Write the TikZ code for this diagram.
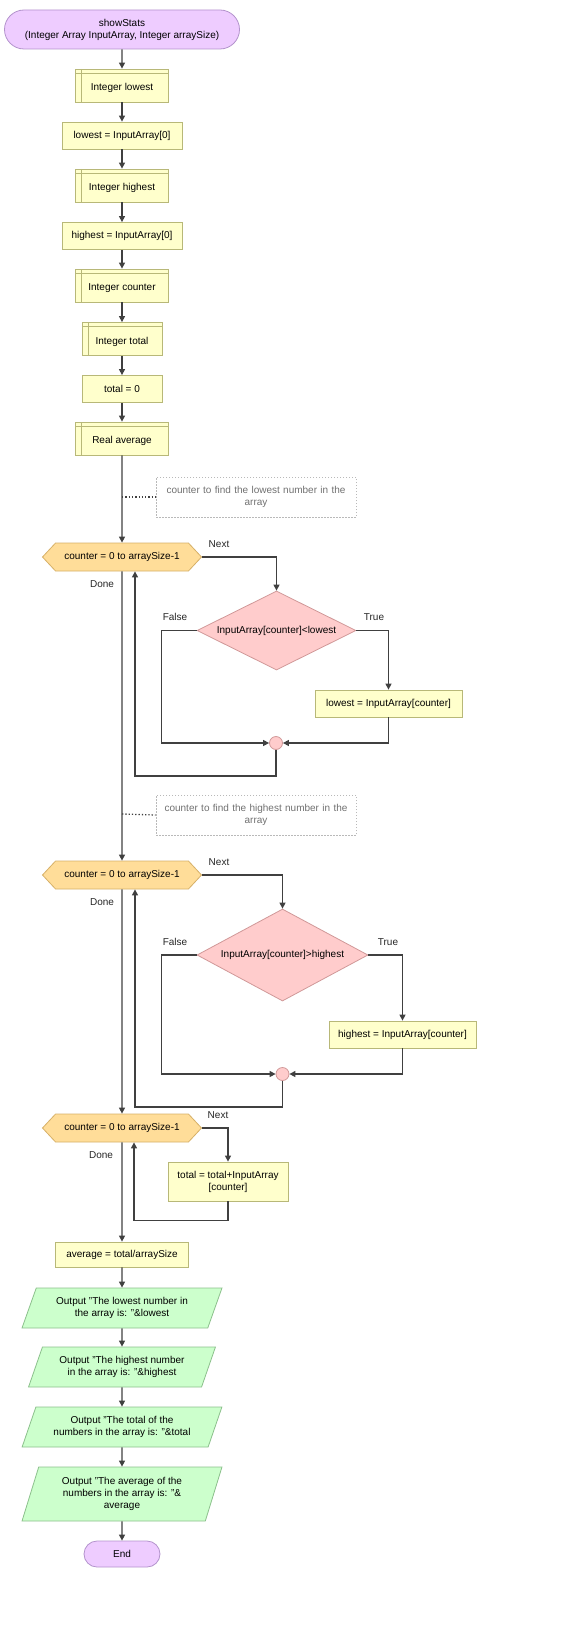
\documentclass[tikz,border=0pt]{standalone}
\usepackage{fontspec}
\setmainfont{Liberation Sans}
\usetikzlibrary{shapes.geometric,shapes.symbols,shapes.misc,arrows.meta}

\definecolor{termfill}{HTML}{EECCFF}
\definecolor{termline}{HTML}{B393CC}
\definecolor{procfill}{HTML}{FFFFCC}
\definecolor{procline}{HTML}{B8B878}
\definecolor{loopfill}{HTML}{FFDD99}
\definecolor{loopline}{HTML}{D6B068}
\definecolor{iffill}{HTML}{FFCCCC}
\definecolor{ifline}{HTML}{D09898}
\definecolor{outfill}{HTML}{CCFFCC}
\definecolor{outborder}{HTML}{8CC08C}
\definecolor{wire}{HTML}{404040}
\definecolor{notegray}{HTML}{707070}

\tikzset{
  base/.style={font=\fontsize{10}{12}\selectfont, inner sep=2pt, align=center, line width=0.8pt},
  term/.style={base, rounded rectangle, draw=termline, fill=termfill},
  proc/.style={base, rectangle, draw=procline, fill=procfill, minimum height=27pt},
  decl/.style={proc, minimum height=33pt, text height=12pt, text depth=2pt,
    path picture={\draw[procline, line width=0.8pt]
      ([yshift=-4pt]path picture bounding box.north west) -- ([yshift=-4pt]path picture bounding box.north east)
      ([xshift=6pt]path picture bounding box.north west) -- ([xshift=6pt]path picture bounding box.south west);}},
  loophex/.style={base, signal, signal to=west and east, signal pointer angle=94,
    draw=loopline, fill=loopfill, minimum width=159pt, minimum height=28pt},
  cond/.style={base, diamond, aspect=2, draw=ifline, fill=iffill, inner sep=0pt},
  outp/.style={base, trapezium, trapezium stretches=true, trapezium left angle=66, trapezium right angle=114,
    draw=outborder, fill=outfill, minimum width=200pt, minimum height=40pt},
  joint/.style={circle, draw=ifline, fill=iffill, line width=0.8pt, minimum size=13pt, inner sep=0pt},
  note/.style={base, draw=gray!55, dash pattern=on 1.5pt off 1.5pt, text=notegray,
    minimum width=200pt, minimum height=40pt, text width=192pt},
  lbl/.style={font=\fontsize{10}{12}\selectfont, text=black!85, inner sep=0pt},
  flow/.style={draw=wire, line width=1.3pt, -{Triangle[length=6pt,width=6pt]}},
  line/.style={draw=wire, line width=1.3pt}
}

\begin{document}
\begin{tikzpicture}[x=1pt,y=-1pt]
  \useasboundingbox (0,0) rectangle (580,1632);

  % main column
  \node[term, minimum width=239pt, minimum height=39pt] (start) at (122,29.5)
    {showStats\\(Integer Array InputArray, Integer arraySize)};
  \node[decl, minimum width=93pt] (dlow) at (122,85.5) {Integer lowest};
  \node[proc, minimum width=120pt] (alow) at (122,135.5) {lowest = InputArray[0]};
  \node[decl, minimum width=93pt] (dhigh) at (122,185.5) {Integer highest};
  \node[proc, minimum width=120pt] (ahigh) at (122,236) {highest = InputArray[0]};
  \node[decl, minimum width=93pt] (dcount) at (122,285.5) {Integer counter};
  \node[decl, minimum width=80pt] (dtotal) at (122,339) {Integer total};
  \node[proc, minimum width=80pt] (atotal) at (122,389) {total = 0};
  \node[decl, minimum width=93pt] (davg) at (122,438.5) {Real average};

  % first loop: lowest
  \node[note] (n1) at (256,497) {counter to find the lowest number in the\\array};
  \coordinate (t1) at (122,497);
  \node[loophex] (h1) at (122,557) {counter = 0 to arraySize-1};
  \node[lbl] (nx1) at (219,544) {Next};
  \node[lbl] (dn1) at (102,584) {Done};
  \node[cond, minimum width=159pt, minimum height=79pt] (c1) at (276.5,630.5) {InputArray[counter]<lowest};
  \node[lbl] (f1) at (175,617) {False};
  \node[lbl] (tr1) at (374,617) {True};
  \node[proc, minimum width=147pt] (s1) at (388.5,703.5) {lowest = InputArray[counter]};
  \node[joint] (j1) at (276,743) {};

  % second loop: highest
  \node[note] (n2) at (256,815) {counter to find the highest number in the\\array};
  \coordinate (t2) at (122,814);
  \node[loophex] (h2) at (122,875) {counter = 0 to arraySize-1};
  \node[lbl] (nx2) at (219,862) {Next};
  \node[lbl] (dn2) at (102,902) {Done};
  \node[cond, minimum width=171pt, minimum height=92pt] (c2) at (282.5,955) {InputArray[counter]>highest};
  \node[lbl] (f2) at (175,942) {False};
  \node[lbl] (tr2) at (388,942) {True};
  \node[proc, minimum width=147pt] (s2) at (402.5,1034.5) {highest = InputArray[counter]};
  \node[joint] (j2) at (282.5,1074) {};

  % third loop: total
  \node[loophex] (h3) at (122,1128) {counter = 0 to arraySize-1};
  \node[lbl] (nx3) at (218,1115) {Next};
  \node[lbl] (dn3) at (101,1155) {Done};
  \node[proc, minimum width=120pt, minimum height=39pt] (s3) at (228,1181.5) {total = total+InputArray\\{}[counter]};

  % results
  \node[proc, minimum width=133pt, minimum height=25pt] (aavg) at (122,1254.5) {average = total/arraySize};
  \node[outp] (o1) at (122,1308) {Output "The lowest number in\\the array is: "\&lowest};
  \node[outp, minimum width=187pt] (o2) at (122,1367) {Output "The highest number\\in the array is: "\&highest};
  \node[outp] (o3) at (122,1427) {Output "The total of the\\numbers in the array is: "\&total};
  \node[outp, minimum height=54pt, trapezium left angle=71.6, trapezium right angle=108.4] (o4) at (122,1494)
    {Output "The average of the\\numbers in the array is: "\&\\average};
  \node[term, minimum width=80pt, minimum height=26pt] (stop) at (122,1554) {End};

  % straight connectors
  \foreach \a/\b in {start/dlow, dlow/alow, alow/dhigh, dhigh/ahigh, ahigh/dcount,
                     dcount/dtotal, dtotal/atotal, atotal/davg, davg/h1, h1/h2, h2/h3,
                     h3/aavg, aavg/o1, o1/o2, o2/o3, o3/o4, o4/stop}
    \draw[flow] (\a) -- (\b);
  \draw[line, dotted] (t1) -- (n1.west);
  \draw[line, dotted] (t2) -- (n2.west);

  % loop 1
  \draw[flow] (h1.east) -| (c1.north);
  \draw[flow] (c1.east) -| (s1.north);
  \draw[flow] (c1.west) -- ++(-35,0) |- (j1.west);
  \draw[flow] (s1.south) |- (j1.east);
  \draw[flow] (j1.south) -- ++(0,26) -| ([xshift=13pt]h1.south);

  % loop 2
  \draw[flow] (h2.east) -| (c2.north);
  \draw[flow] (c2.east) -| (s2.north);
  \draw[flow] (c2.west) -- ++(-35,0) |- (j2.west);
  \draw[flow] (s2.south) |- (j2.east);
  \draw[flow] (j2.south) -- ++(0,26) -| ([xshift=13pt]h2.south);

  % loop 3
  \draw[flow] (h3.east) -| (s3.north);
  \draw[flow] (s3.south) -- ++(0,19) -| ([xshift=12pt]h3.south);
\end{tikzpicture}
\end{document}
